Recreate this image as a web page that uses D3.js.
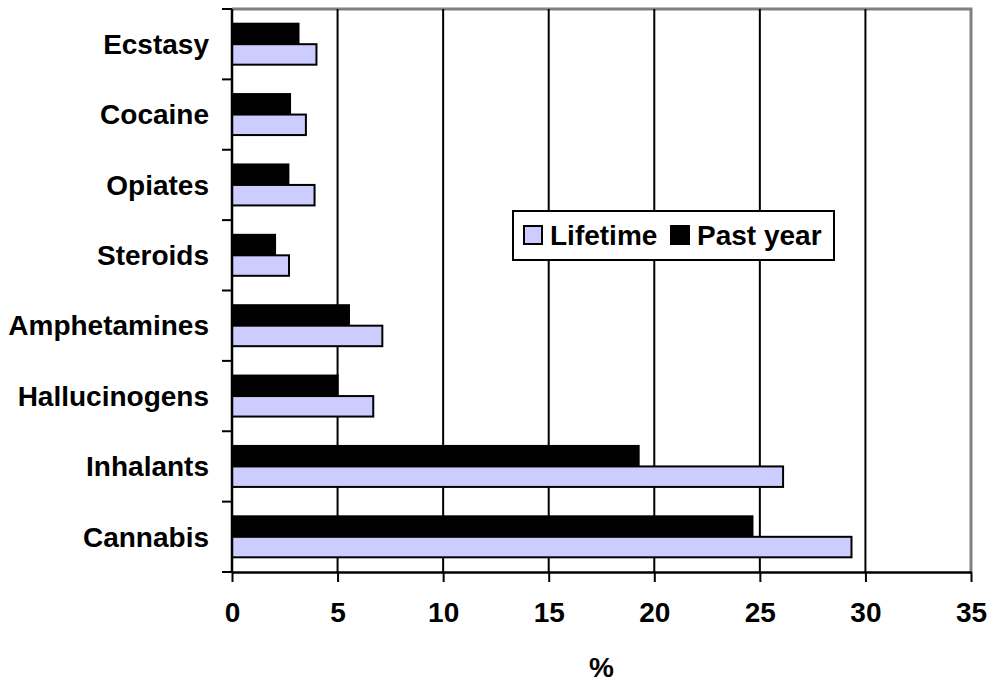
<!DOCTYPE html>
<html>
<head>
<meta charset="utf-8">
<script src="https://cdn.jsdelivr.net/npm/d3@7"></script>
<style>
body { margin: 0; background: #fff; }
text { font-family: Arial, "Liberation Sans", sans-serif; font-weight: bold; fill: #000; }
</style>
</head>
<body>
<div id="chart"></div>
<script>
var width = 992,
height = 684;

// data
var categories = ["Ecstasy", "Cocaine", "Opiates", "Steroids", "Amphetamines", "Hallucinogens", "Inhalants", "Cannabis"];
var series = ["Past year", "Lifetime"];
var pastYear = [3.15, 2.75, 2.67, 2.04, 5.54, 5.0, 19.26, 24.65];
var lifetime = [4.0, 3.5, 3.91, 2.7, 7.12, 6.69, 26.1, 29.34];
var xTicks = [0, 5, 10, 15, 20, 25, 30, 35];

var margin = {left: 232, right: 21, top: 9, bottom: 112};

var svg = d3.select("#chart")
.append("svg")
.attr("width", width)
.attr("height", height);

var x = d3.scaleLinear()
.domain([0, 35])
.range([margin.left, width - margin.right]);

var y = d3.scaleBand()
.domain(categories)
.range([margin.top, height - margin.bottom])
.padding(0);

var ySub = d3.scaleBand()
.domain(series)
.range([0, y.bandwidth()])
.paddingInner(0)
.paddingOuter(0.717);

// plot border (grey top and right)
svg.append("path")
.attr("d", "M" + x(0) + "," + y.range()[0] + "H" + x(35) + "V" + y.range()[1])
.attr("fill", "none")
.attr("stroke", "#808080")
.attr("stroke-width", 3);

// vertical gridlines
svg.append("g")
.selectAll("line")
.data(xTicks.filter(function(d) { return d > 0 && d < 35; }))
.enter().append("line")
.attr("x1", function(d) { return x(d); })
.attr("x2", function(d) { return x(d); })
.attr("y1", y.range()[0])
.attr("y2", y.range()[1])
.attr("stroke", "#000")
.attr("stroke-width", 2);

var groups = svg.append("g")
.selectAll("g")
.data(categories)
.enter().append("g")
.attr("transform", function(d) { return "translate(0," + y(d) + ")"; });

// past year bars
groups.append("rect")
.attr("x", x(0))
.attr("y", ySub("Past year"))
.attr("width", function(d, i) { return x(pastYear[i]) - x(0); })
.attr("height", ySub.bandwidth())
.attr("fill", "#000")
.attr("stroke", "#000")
.attr("stroke-width", 2);

// lifetime bars
groups.append("rect")
.attr("x", x(0))
.attr("y", ySub("Lifetime"))
.attr("width", function(d, i) { return x(lifetime[i]) - x(0); })
.attr("height", ySub.bandwidth())
.attr("fill", "#CCCCFF")
.attr("stroke", "#000")
.attr("stroke-width", 2);

// x axis
var xAxis = svg.append("g")
.attr("transform", "translate(0," + y.range()[1] + ")")
.call(d3.axisBottom(x).tickValues(xTicks).tickSize(10).tickPadding(20).tickSizeOuter(0));

xAxis.select(".domain").attr("stroke-width", 2.5);
xAxis.selectAll(".tick line").attr("stroke-width", 2);
xAxis.selectAll(".tick text")
.style("font-size", "28px")
.style("font-family", "Arial, 'Liberation Sans', sans-serif")
.style("font-weight", "bold")
.attr("dy", "0.71em");

// y axis: ticks on band boundaries
var yAxis = svg.append("g");
yAxis.append("line")
.attr("x1", x(0)).attr("x2", x(0))
.attr("y1", y.range()[0]).attr("y2", y.range()[1])
.attr("stroke", "#000")
.attr("stroke-width", 2.5);

yAxis.selectAll(".ytick")
.data(d3.range(categories.length + 1))
.enter().append("line")
.attr("class", "ytick")
.attr("x1", x(0) - 10).attr("x2", x(0))
.attr("y1", function(i) { return y.range()[0] + i * y.step(); })
.attr("y2", function(i) { return y.range()[0] + i * y.step(); })
.attr("stroke", "#000")
.attr("stroke-width", 2);

yAxis.selectAll(".ylabel")
.data(categories)
.enter().append("text")
.attr("class", "ylabel")
.attr("x", x(0) - 23)
.attr("y", function(d) { return y(d) + y.bandwidth() / 2; })
.attr("dy", "0.35em")
.attr("text-anchor", "end")
.style("font-size", "28px")
.text(function(d) { return d; });

// axis title
svg.append("text")
.attr("x", (x(0) + x(35)) / 2)
.attr("y", 677)
.attr("text-anchor", "middle")
.style("font-size", "28px")
.text("%");

// legend
var legend = svg.append("g")
.attr("transform", "translate(513,211)");

legend.append("rect")
.attr("width", 321)
.attr("height", 49)
.attr("fill", "#fff")
.attr("stroke", "#000")
.attr("stroke-width", 2);

var legendItems = [
  {name: "Lifetime", fill: "#CCCCFF", x: 11},
  {name: "Past year", fill: "#000", x: 158}
];

var li = legend.selectAll(".li")
.data(legendItems)
.enter().append("g")
.attr("class", "li")
.attr("transform", function(d) { return "translate(" + d.x + ",0)"; });

li.append("rect")
.attr("x", 0)
.attr("y", 15)
.attr("width", 18)
.attr("height", 18)
.attr("fill", function(d) { return d.fill; })
.attr("stroke", "#000")
.attr("stroke-width", 2);

li.append("text")
.attr("x", 26)
.attr("y", 24)
.attr("dy", "0.35em")
.style("font-size", "28px")
.text(function(d) { return d.name; });
</script>
</body>
</html>
